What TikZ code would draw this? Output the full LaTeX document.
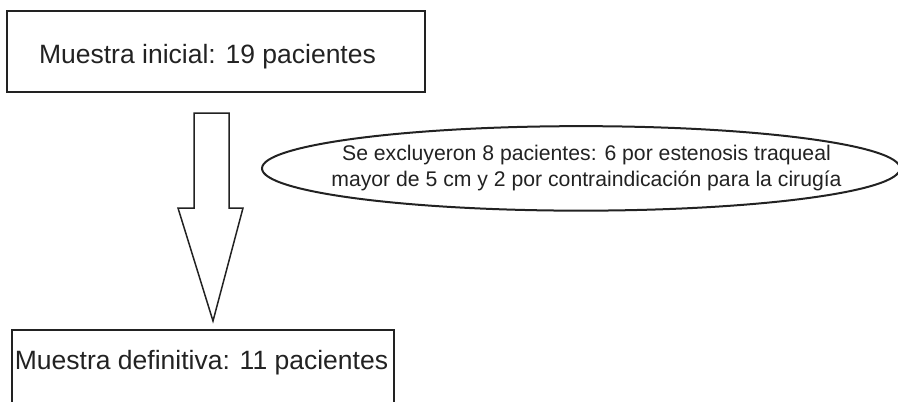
\documentclass[tikz,border=0pt]{standalone}
\usepackage{fontspec}
\setmainfont{Liberation Sans}
\usetikzlibrary{shapes.geometric}
\definecolor{ink}{HTML}{222222}
\tikzset{
  boxtext/.style={inner sep=0pt, anchor=base, text=ink, font=\fontsize{26.5}{30}\selectfont},
  elltext/.style={inner sep=0pt, anchor=base, text=ink, font=\fontsize{21.2}{26}\selectfont},
  frame/.style={draw=ink, line width=2.3pt},
  bigarrow/.style={draw=ink, line width=1.5pt, line join=miter, fill=white}
}
\begin{document}
\begin{tikzpicture}[x=1pt,y=-1pt]
\useasboundingbox (0,0) rectangle (898,402);
\clip (0,0) rectangle (898,402);
% top box
\node[frame, rectangle, minimum width=418pt, minimum height=81pt, inner sep=0pt] (top) at (216,51.5) {};
\node[boxtext] (toptext) at (207.5,63.3) {Muestra inicial: 19 pacientes};
% arrow
\coordinate (s1) at (194,113);
\coordinate (s2) at (229,113);
\coordinate (s3) at (229,208);
\coordinate (h2) at (243,208);
\coordinate (tip) at (213,321);
\coordinate (h1) at (178,208);
\coordinate (s4) at (194,208);
\draw[bigarrow] (s1) -- (s2) -- (s3) -- (h2) -- (tip) -- (h1) -- (s4) -- cycle;
% ellipse
\node[ellipse, draw=ink, line width=2pt, minimum width=638pt, minimum height=84.5pt, inner sep=0pt] (excl) at (581,168.4) {};
\node[elltext] (ex1) at (586.5,160.7) {Se excluyeron 8 pacientes: 6 por estenosis traqueal};
\node[elltext] (ex2) at (586.5,186.7) {mayor de 5 cm y 2 por contraindicación para la cirugía};
% bottom box (cut at bottom)
\coordinate (b1) at (12,412);
\coordinate (b2) at (12,330);
\coordinate (b3) at (394,330);
\coordinate (b4) at (394,412);
\draw[frame] (b1) -- (b2) -- (b3) -- (b4);
\node[boxtext] (bottext) at (201.5,369.3) {Muestra definitiva: 11 pacientes};
\end{tikzpicture}
\end{document}
